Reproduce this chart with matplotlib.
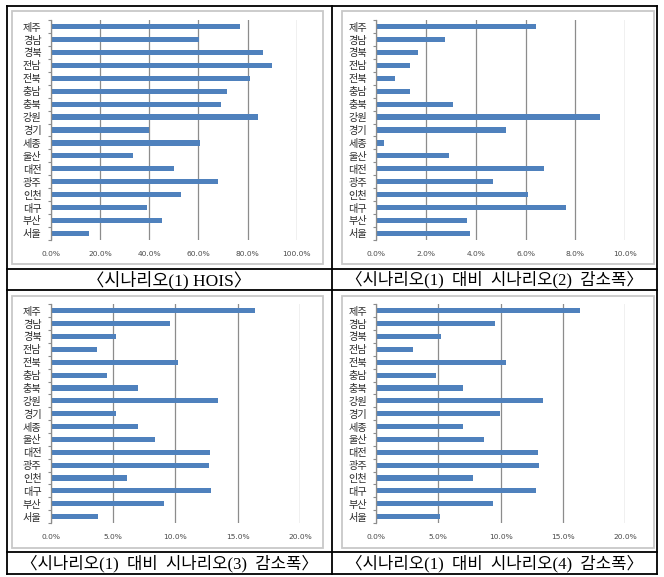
import matplotlib
matplotlib.use("Agg")
import matplotlib.pyplot as plt
from matplotlib.patches import Rectangle
from matplotlib.ticker import FuncFormatter, FixedLocator
import numpy as np

# categories listed bottom -> top (Excel bar-chart order)
regions = ["서울", "부산", "대구", "인천", "광주", "대전", "울산", "세종",
           "경기", "강원", "충북", "충남", "전북", "전남", "경북", "경남", "제주"]

# values in percent, same order as regions
s1_hois = [15.7, 45.1, 39.0, 53.1, 68.2, 50.1, 33.3, 60.6,
           39.8, 84.1, 69.1, 71.8, 80.9, 89.8, 86.4, 60.2, 77.0]
s2_drop = [3.78, 3.66, 7.61, 6.10, 4.69, 6.74, 2.94, 0.32,
           5.20, 9.00, 3.09, 1.35, 0.78, 1.38, 1.67, 2.75, 6.40]
s3_drop = [3.77, 9.06, 12.86, 6.10, 12.70, 12.75, 8.34, 6.98,
           5.21, 13.40, 7.03, 4.55, 10.21, 3.72, 5.21, 9.55, 16.36]
s4_drop = [5.13, 9.41, 12.83, 7.78, 13.07, 13.02, 8.64, 6.95,
           9.95, 13.37, 7.01, 4.79, 10.45, 2.94, 5.19, 9.55, 16.34]

captions = ["〈시나리오(1) HOIS〉",
            "〈시나리오(1)  대비  시나리오(2)  감소폭〉",
            "〈시나리오(1)  대비  시나리오(3)  감소폭〉",
            "〈시나리오(1)  대비  시나리오(4)  감소폭〉"]

x_ticks = [[0, 20, 40, 60, 80, 100],
           [0, 2, 4, 6, 8, 10],
           [0, 5, 10, 15, 20],
           [0, 5, 10, 15, 20]]

series = [s1_hois, s2_drop, s3_drop, s4_drop]

W, H = 664, 577
fig = plt.figure(figsize=(W / 100, H / 100), dpi=100)
fig.patch.set_facecolor("white")

# overlay axes in pixel coordinates for the table frame and chart boxes
ov = fig.add_axes([0, 0, 1, 1], zorder=-1)
ov.set_xlim(0, W)
ov.set_ylim(H, 0)
ov.axis("off")

# chart area boxes (light gray)
boxes = [(12, 11, 323, 264), (342, 11, 654, 264),
         (12, 296, 323, 548), (342, 296, 654, 548)]
for (x0, y0, x1, y1) in boxes:
    ov.add_patch(Rectangle((x0, y0), x1 - x0, y1 - y0, fill=False,
                           edgecolor="#c8c8c8", lw=1.3))

# table lines (black)
tl = dict(color="black", lw=1.3, solid_capstyle="projecting")
ov.plot([7, 657], [6, 6], **tl)
ov.plot([7, 657], [574, 574], **tl)
ov.plot([7, 7], [6, 574], **tl)
ov.plot([657, 657], [6, 574], **tl)
ov.plot([332, 332], [6, 574], **tl)
for yy in (269, 290, 552):
    ov.plot([7, 657], [yy, yy], **tl)

# captions
cap_pos = [(169.5, 280), (494.5, 280), (169.5, 563.5), (494.5, 563.5)]
cap_sizes = [12.5, 12, 12, 12]
for (cx, cy), cap, fs in zip(cap_pos, captions, cap_sizes):
    ov.text(cx, cy, cap, ha="center", va="center", fontsize=fs,
            family=["Liberation Serif", "Noto Sans CJK KR"], color="black")

# plot areas in pixel coords: (left, top, right, bottom)
areas = [(50.7, 20.2, 296.7, 239.8),
         (376.0, 20.2, 625.3, 239.8),
         (50.7, 304.3, 300.0, 523.1),
         (376.0, 304.3, 625.3, 523.1)]

pos = np.arange(len(regions))
grid_c = "#8c8c8c"
for (l, t, r, b), vals, ticks in zip(areas, series, x_ticks):
    ax = fig.add_axes([l / W, 1 - b / H, (r - l) / W, (b - t) / H])
    ax.set_facecolor("none")
    ax.barh(pos, vals, height=0.4, color="#4F81BD", zorder=3)
    ax.set_xlim(ticks[0], ticks[-1])
    ax.set_ylim(-0.5, len(regions) - 0.5)
    ax.set_xticks(ticks)
    ax.xaxis.set_major_formatter(FuncFormatter(lambda v, p: f"{v:.1f}%"))
    ax.grid(axis="x", color=grid_c, lw=0.9, zorder=1)
    ax.set_yticks(pos)
    ax.set_yticklabels(regions, family=["Noto Sans CJK KR", "DejaVu Sans"],
                       fontsize=7.3, color="#2a2a2a")
    ax.yaxis.set_minor_locator(FixedLocator(np.arange(-0.5, len(regions), 1.0)))
    ax.tick_params(axis="y", which="major", length=0, pad=6.5)
    ax.tick_params(axis="y", which="minor", length=2.5, width=0.8,
                   color=grid_c, direction="out")
    ax.tick_params(axis="x", length=0, pad=8, labelsize=5.4, labelcolor="#4a4a4a")
    for lab in ax.get_xticklabels():
        lab.set_family("DejaVu Sans")
    for side in ("top", "right"):
        ax.spines[side].set_visible(False)
    ax.spines["bottom"].set_visible(False)
    ax.spines["left"].set_color(grid_c)
    ax.spines["left"].set_linewidth(0.9)
    ax.spines["left"].set_zorder(4)

fig.savefig("out.png", dpi=100, facecolor="white")
